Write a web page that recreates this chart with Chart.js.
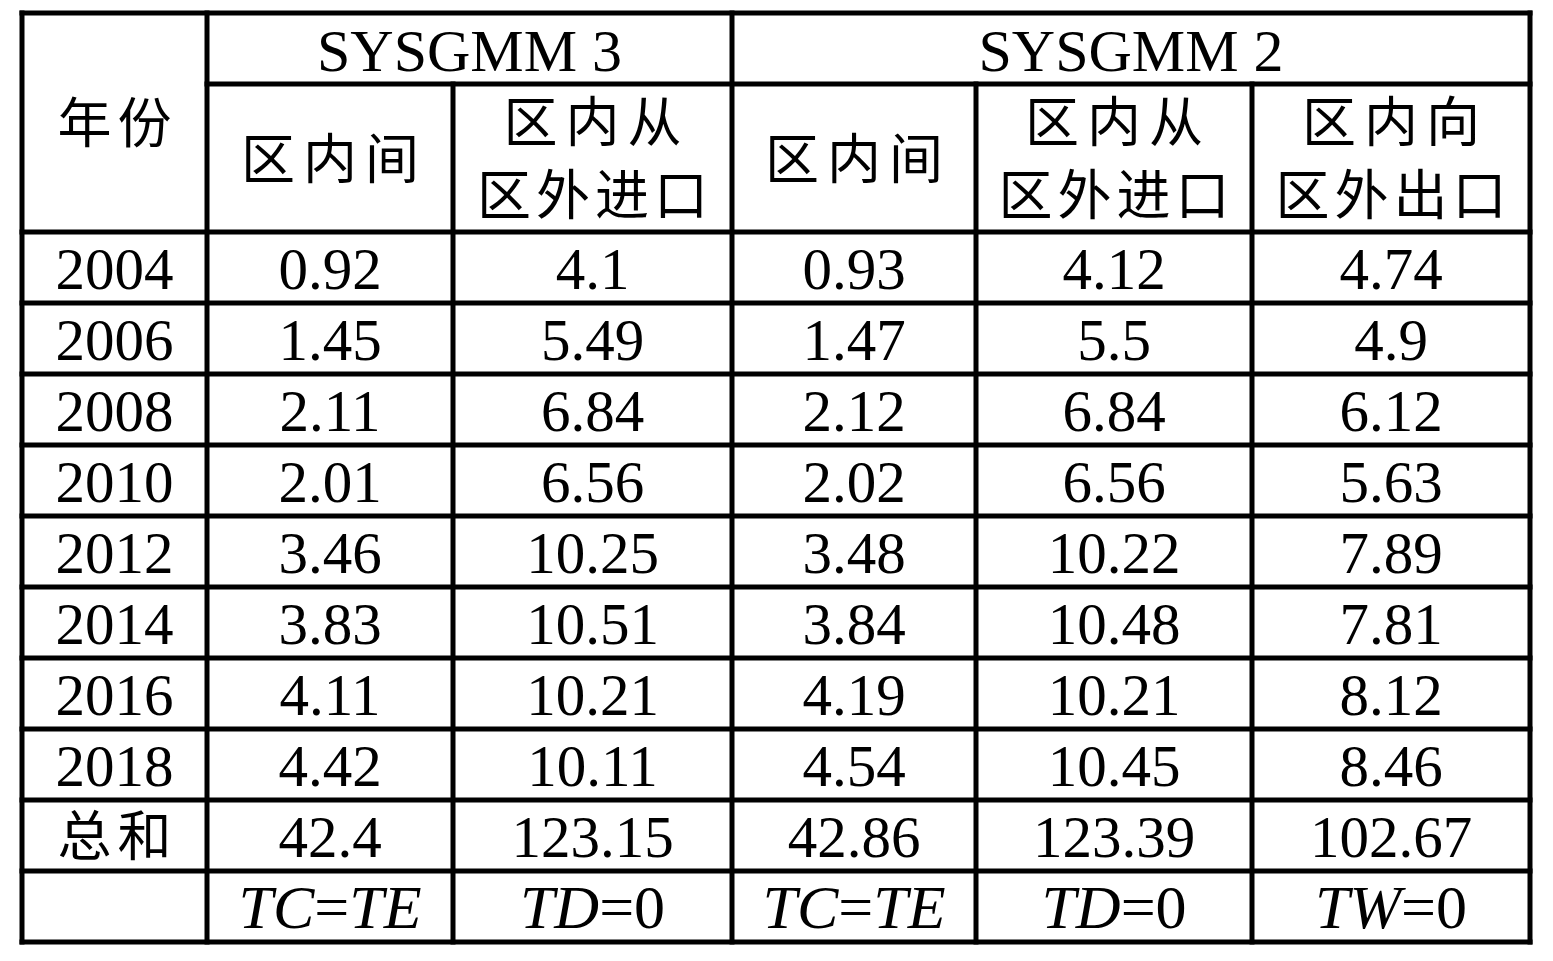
<!DOCTYPE html>
<html>
<head>
<meta charset="utf-8">
<script src="https://cdn.jsdelivr.net/npm/chart.js@4.4.1/dist/chart.umd.min.js"></script>
<style>
  html, body { margin: 0; padding: 0; background: #fff; }
  #wrap { width: 1553px; height: 961px; }
</style>
</head>
<body>
<div id="wrap"><canvas id="c" width="1553" height="961"></canvas></div>
<script>
// ---- data ----
const groupTitles = ['SYSGMM 3', 'SYSGMM 2'];
const yearHeader = '年份';
const columnHeaders = [['区内间'], ['区内从', '区外进口'], ['区内间'], ['区内从', '区外进口'], ['区内向', '区外出口']];
const years = ['2004', '2006', '2008', '2010', '2012', '2014', '2016', '2018'];
const sys3Intra = [0.92, 1.45, 2.11, 2.01, 3.46, 3.83, 4.11, 4.42];
const sys3Import = [4.1, 5.49, 6.84, 6.56, 10.25, 10.51, 10.21, 10.11];
const sys2Intra = [0.93, 1.47, 2.12, 2.02, 3.48, 3.84, 4.19, 4.54];
const sys2Import = [4.12, 5.5, 6.84, 6.56, 10.22, 10.48, 10.21, 10.45];
const sys2Export = [4.74, 4.9, 6.12, 5.63, 7.89, 7.81, 8.12, 8.46];
const totalLabel = '总和';
const totals = ['42.4', '123.15', '42.86', '123.39', '102.67'];
const conditions = [['TC', '=', 'TE'], ['TD', '=0'], ['TC', '=', 'TE'], ['TD', '=0'], ['TW', '=0']];

// ---- layout (scale units) ----
const colEdges = [0, 185, 431, 710, 954, 1230, 1508];
const rowHeights = [71, 148, 71, 71, 71, 71, 71, 71, 71, 71, 71, 71];
const rowEdges = rowHeights.reduce((a, h) => (a.push(a[a.length - 1] + h), a), [0]);

const series = [sys3Intra, sys3Import, sys2Intra, sys2Import, sys2Export];

const SERIF = '"Liberation Serif", "Times New Roman", serif';
const CJK = '"Noto Sans CJK SC", sans-serif';

const tablePlugin = {
  id: 'table',
  afterDraw(chart) {
    const ctx = chart.ctx;
    const xs = chart.scales.x, ys = chart.scales.y;
    const X = v => xs.getPixelForValue(v);
    const Y = v => ys.getPixelForValue(v);
    const top = rowEdges[0], bottom = rowEdges[rowEdges.length - 1];
    const left = colEdges[0], right = colEdges[colEdges.length - 1];

    ctx.save();
    ctx.strokeStyle = '#000';
    ctx.lineWidth = 5;
    ctx.lineCap = 'square';
    const line = (x1, y1, x2, y2) => {
      ctx.beginPath(); ctx.moveTo(X(x1), Y(y1)); ctx.lineTo(X(x2), Y(y2)); ctx.stroke();
    };
    // horizontal lines
    line(left, top, right, top);
    line(colEdges[1], rowEdges[1], right, rowEdges[1]);
    for (let r = 2; r < rowEdges.length; r++) line(left, rowEdges[r], right, rowEdges[r]);
    // vertical lines
    [0, 1, 3, 6].forEach(i => line(colEdges[i], top, colEdges[i], bottom));
    [2, 4, 5].forEach(i => line(colEdges[i], rowEdges[1], colEdges[i], bottom));

    ctx.fillStyle = '#000';
    const cx = (a, b) => (X(a) + X(b)) / 2;
    const cy = (a, b) => (Y(a) + Y(b)) / 2;
    const serifText = (t, x, y, size, italic) => {
      ctx.font = (italic ? 'italic ' : '') + size + 'px ' + SERIF;
      ctx.textAlign = 'center';
      ctx.textBaseline = 'alphabetic';
      ctx.fillText(t, x, y + size * 0.37);
    };
    const cjkText = (t, x, y, size, step) => {
      ctx.font = size + 'px ' + CJK;
      ctx.textAlign = 'center';
      ctx.textBaseline = 'middle';
      const chars = Array.from(t);
      const start = x - step * (chars.length - 1) / 2;
      chars.forEach((ch, i) => ctx.fillText(ch, start + i * step, y));
    };

    // group titles
    serifText(groupTitles[0], cx(colEdges[1], colEdges[3]), cy(rowEdges[0], rowEdges[1]), 60);
    serifText(groupTitles[1], cx(colEdges[3], colEdges[6]), cy(rowEdges[0], rowEdges[1]), 60);
    // year header (merged over both header rows)
    cjkText(yearHeader, cx(colEdges[0], colEdges[1]), cy(rowEdges[0], rowEdges[2]), 54, 60);
    // column headers
    columnHeaders.forEach((lines, c) => {
      const x = cx(colEdges[c + 1], colEdges[c + 2]);
      const y = cy(rowEdges[1], rowEdges[2]);
      if (lines.length === 1) cjkText(lines[0], x, y, 54, 62);
      else {
        cjkText(lines[0], x, y - 37, 54, 62);
        cjkText(lines[1], x, y + 36, 54, 59);
      }
    });
    // data rows
    years.forEach((yr, r) => {
      const y = cy(rowEdges[r + 2], rowEdges[r + 3]);
      serifText(yr, cx(colEdges[0], colEdges[1]), y, 59);
      series.forEach((s, c) => serifText(String(s[r]), cx(colEdges[c + 1], colEdges[c + 2]), y, 59));
    });
    // totals
    const tr = years.length + 2;
    const ty = cy(rowEdges[tr], rowEdges[tr + 1]);
    cjkText(totalLabel, cx(colEdges[0], colEdges[1]), ty, 54, 60);
    totals.forEach((t, c) => serifText(t, cx(colEdges[c + 1], colEdges[c + 2]), ty, 59));
    // conditions (italic letters, upright = and digits)
    const cr = tr + 1;
    const cyy = cy(rowEdges[cr], rowEdges[cr + 1]);
    const csize = 62;
    conditions.forEach((parts, c) => {
      const x = cx(colEdges[c + 1], colEdges[c + 2]);
      const fonts = parts.map(p => (/^[A-Z]+$/.test(p) ? 'italic ' : '') + csize + 'px ' + SERIF);
      const widths = parts.map((p, i) => { ctx.font = fonts[i]; return ctx.measureText(p).width; });
      let start = x - widths.reduce((a, b) => a + b, 0) / 2;
      ctx.textAlign = 'left';
      ctx.textBaseline = 'alphabetic';
      parts.forEach((p, i) => {
        ctx.font = fonts[i];
        ctx.fillText(p, start, cyy + csize * 0.34);
        start += widths[i];
      });
    });
    ctx.restore();
  }
};

new Chart(document.getElementById('c'), {
  type: 'scatter',
  data: { datasets: [] },
  options: {
    responsive: false,
    animation: false,
    devicePixelRatio: 1,
    layout: { padding: { left: 22, top: 13, right: 23, bottom: 19 } },
    plugins: { legend: { display: false }, tooltip: { enabled: false } },
    scales: {
      x: { type: 'linear', min: colEdges[0], max: colEdges[colEdges.length - 1], display: false },
      y: { type: 'linear', min: rowEdges[0], max: rowEdges[rowEdges.length - 1], reverse: true, display: false }
    }
  },
  plugins: [tablePlugin]
});
</script>
</body>
</html>
